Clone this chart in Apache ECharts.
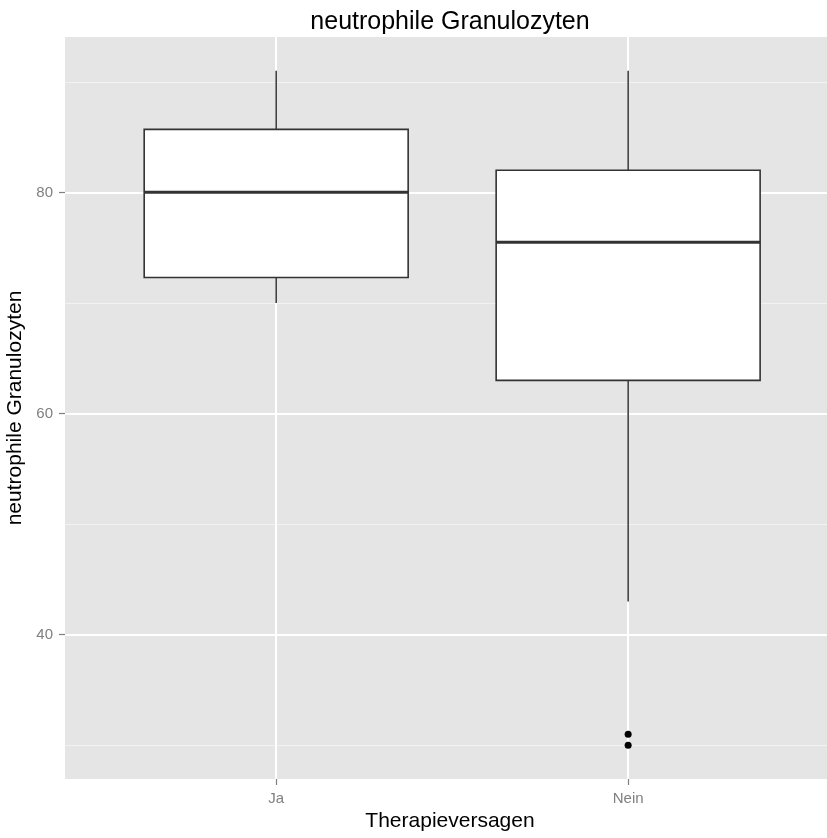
<!DOCTYPE html>
<html>
<head>
<meta charset="utf-8">
<script src="https://cdn.jsdelivr.net/npm/echarts@6/dist/echarts.min.js"></script>
<style>html,body{margin:0;padding:0;background:#fff}#c{width:827px;height:838px}</style>
</head>
<body>
<div id="c"></div>
<script>
var categories = ['Ja', 'Nein'];
var lowerWhisker = [70, 43];
var q1 = [72.3, 63];
var median = [80, 75.5];
var q3 = [85.7, 82];
var upperWhisker = [91, 91];
var outlierCategory = ['Nein', 'Nein'];
var outlierValues = [31, 30];
var yTicks = [40, 60, 80];
var yMinorTicks = [30, 50, 70, 90];

var FONT = 'Liberation Sans';
var chart = echarts.init(document.getElementById('c'), null, {renderer: 'canvas'});

var boxData = categories.map(function (c, i) {
  return [i + 1, lowerWhisker[i], q1[i], median[i], q3[i], upperWhisker[i]];
});
var outData = outlierValues.map(function (v, i) {
  return [categories.indexOf(outlierCategory[i]) + 1, v];
});

var gridLines = [];
yMinorTicks.forEach(function (v) {
  gridLines.push({yAxis: v, lineStyle: {color: '#F2F2F2', width: 1, type: 'solid'}});
});
yTicks.forEach(function (v) {
  gridLines.push({yAxis: v, lineStyle: {color: '#FFFFFF', width: 2, type: 'solid'}});
});
categories.forEach(function (c, i) {
  gridLines.push({xAxis: i + 1, lineStyle: {color: '#FFFFFF', width: 2, type: 'solid'}});
});

var option = {
  animation: false,
  backgroundColor: '#FFFFFF',
  title: {
    text: 'neutrophile Granulozyten',
    left: 445,
    top: 5,
    textAlign: 'center',
    textStyle: {fontFamily: FONT, fontSize: 25, fontWeight: 'normal', color: '#000'}
  },
  grid: {
    left: 65, right: 0, top: 37, bottom: 59,
    outerBoundsMode: 'none',
    containLabel: false,
    show: true, backgroundColor: '#E5E5E5', borderWidth: 0
  },
  xAxis: {
    type: 'value',
    min: 0.4, max: 2.565,
    name: 'Therapieversagen',
    nameLocation: 'middle',
    nameGap: 31,
    nameTextStyle: {fontFamily: FONT, fontSize: 21, color: '#000', padding: [0, 0, 0, 8]},
    axisLine: {show: false},
    axisTick: {show: true, customValues: [1, 2], length: 6, lineStyle: {color: '#7F7F7F', width: 1.2}},
    axisLabel: {
      show: true, customValues: [1, 2], margin: 12,
      fontFamily: FONT, fontSize: 15, color: '#7F7F7F',
      formatter: function (v) { return categories[Math.round(v) - 1] || ''; }
    },
    splitLine: {show: false}
  },
  yAxis: {
    type: 'value',
    min: 26.95, max: 94.05,
    name: 'neutrophile Granulozyten',
    nameLocation: 'middle',
    nameGap: 30,
    nameRotate: 90,
    nameTextStyle: {fontFamily: FONT, fontSize: 21, color: '#000'},
    axisLine: {show: false},
    axisTick: {show: true, customValues: yTicks, length: 6, lineStyle: {color: '#7F7F7F', width: 1.2}},
    axisLabel: {show: true, customValues: yTicks, margin: 12, fontFamily: FONT, fontSize: 15, color: '#7F7F7F'},
    splitLine: {show: false}
  },
  series: [
    {
      type: 'scatter',
      data: outData,
      z: 5,
      symbol: 'circle',
      symbolSize: 7,
      itemStyle: {color: '#000', opacity: 1},
      markLine: {
        silent: true,
        symbol: 'none',
        z: 1,
        label: {show: false},
        emphasis: {disabled: true},
        data: gridLines
      }
    },
    {
      type: 'custom',
      z: 3,
      data: boxData,
      renderItem: function (params, api) {
        var x = api.value(0);
        var halfW = 0.375;
        var lw = api.coord([x, api.value(1)]);
        var b1 = api.coord([x - halfW, api.value(2)]);
        var b2 = api.coord([x + halfW, api.value(4)]);
        var medL = api.coord([x - halfW, api.value(3)]);
        var medR = api.coord([x + halfW, api.value(3)]);
        var uw = api.coord([x, api.value(5)]);
        var q1c = api.coord([x, api.value(2)]);
        var q3c = api.coord([x, api.value(4)]);
        var stroke = '#333333';
        return {
          type: 'group',
          children: [
            {type: 'line', shape: {x1: uw[0], y1: uw[1], x2: q3c[0], y2: q3c[1]}, style: {stroke: stroke, lineWidth: 1.5}},
            {type: 'line', shape: {x1: lw[0], y1: lw[1], x2: q1c[0], y2: q1c[1]}, style: {stroke: stroke, lineWidth: 1.5}},
            {type: 'rect', shape: {x: b1[0], y: b2[1], width: b2[0] - b1[0], height: b1[1] - b2[1]}, style: {fill: '#FFFFFF', stroke: stroke, lineWidth: 1.6}},
            {type: 'line', shape: {x1: medL[0], y1: medL[1], x2: medR[0], y2: medR[1]}, style: {stroke: stroke, lineWidth: 3}}
          ]
        };
      }
    }
  ]
};
chart.setOption(option);
</script>
</body>
</html>
